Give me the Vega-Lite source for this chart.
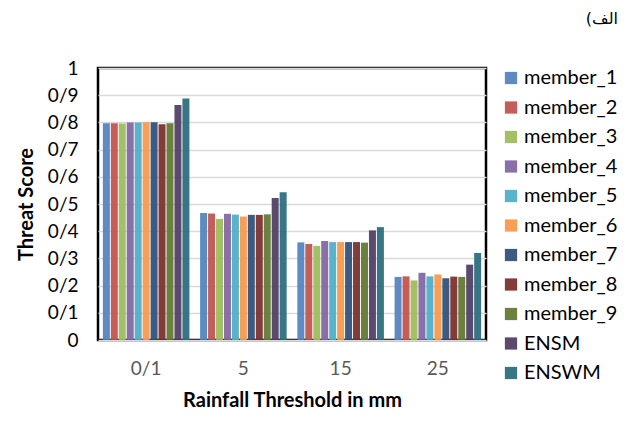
{
  "$schema": "https://vega.github.io/schema/vega-lite/v6.json",
  "width": 388,
  "height": 272,
  "autosize": {"type": "none"},
  "padding": {"left": 98, "top": 68, "right": 143, "bottom": 81},
  "background": "#ffffff",
  "title": {
    "text": "(الف",
    "anchor": "end",
    "frame": "bounds",
    "font": "DejaVu Sans",
    "fontSize": 16,
    "fontWeight": "normal",
    "color": "#000000",
    "offset": 32,
    "dx": 0
  },
  "data": {
    "values": [
      {"threshold": "0/1", "series": "member_1", "ts": 0.797},
      {"threshold": "0/1", "series": "member_2", "ts": 0.797},
      {"threshold": "0/1", "series": "member_3", "ts": 0.796},
      {"threshold": "0/1", "series": "member_4", "ts": 0.800},
      {"threshold": "0/1", "series": "member_5", "ts": 0.800},
      {"threshold": "0/1", "series": "member_6", "ts": 0.801},
      {"threshold": "0/1", "series": "member_7", "ts": 0.801},
      {"threshold": "0/1", "series": "member_8", "ts": 0.793},
      {"threshold": "0/1", "series": "member_9", "ts": 0.797},
      {"threshold": "0/1", "series": "ENSM", "ts": 0.864},
      {"threshold": "0/1", "series": "ENSWM", "ts": 0.888},
      {"threshold": "5", "series": "member_1", "ts": 0.467},
      {"threshold": "5", "series": "member_2", "ts": 0.465},
      {"threshold": "5", "series": "member_3", "ts": 0.445},
      {"threshold": "5", "series": "member_4", "ts": 0.464},
      {"threshold": "5", "series": "member_5", "ts": 0.461},
      {"threshold": "5", "series": "member_6", "ts": 0.454},
      {"threshold": "5", "series": "member_7", "ts": 0.460},
      {"threshold": "5", "series": "member_8", "ts": 0.460},
      {"threshold": "5", "series": "member_9", "ts": 0.462},
      {"threshold": "5", "series": "ENSM", "ts": 0.522},
      {"threshold": "5", "series": "ENSWM", "ts": 0.543},
      {"threshold": "15", "series": "member_1", "ts": 0.359},
      {"threshold": "15", "series": "member_2", "ts": 0.353},
      {"threshold": "15", "series": "member_3", "ts": 0.346},
      {"threshold": "15", "series": "member_4", "ts": 0.364},
      {"threshold": "15", "series": "member_5", "ts": 0.360},
      {"threshold": "15", "series": "member_6", "ts": 0.360},
      {"threshold": "15", "series": "member_7", "ts": 0.360},
      {"threshold": "15", "series": "member_8", "ts": 0.360},
      {"threshold": "15", "series": "member_9", "ts": 0.358},
      {"threshold": "15", "series": "ENSM", "ts": 0.403},
      {"threshold": "15", "series": "ENSWM", "ts": 0.415},
      {"threshold": "25", "series": "member_1", "ts": 0.232},
      {"threshold": "25", "series": "member_2", "ts": 0.234},
      {"threshold": "25", "series": "member_3", "ts": 0.219},
      {"threshold": "25", "series": "member_4", "ts": 0.247},
      {"threshold": "25", "series": "member_5", "ts": 0.234},
      {"threshold": "25", "series": "member_6", "ts": 0.241},
      {"threshold": "25", "series": "member_7", "ts": 0.227},
      {"threshold": "25", "series": "member_8", "ts": 0.233},
      {"threshold": "25", "series": "member_9", "ts": 0.232},
      {"threshold": "25", "series": "ENSM", "ts": 0.277},
      {"threshold": "25", "series": "ENSWM", "ts": 0.320}
    ]
  },
  "mark": {"type": "bar", "opacity": 0.92},
  "encoding": {
    "x": {
      "field": "threshold",
      "type": "nominal",
      "sort": ["0/1", "5", "15", "25"],
      "scale": {"paddingInner": 0.11, "paddingOuter": 0.05},
      "axis": {
        "title": "Rainfall Threshold in mm",
        "labelAngle": 0,
        "labelColor": "#595959",
        "labelFontSize": 19,
        "labelPadding": 19,
        "ticks": false,
        "domain": false,
        "titleFontSize": 20,
        "titleFontWeight": "bold",
        "titlePadding": 12
      }
    },
    "xOffset": {
      "field": "series",
      "type": "nominal",
      "sort": ["member_1", "member_2", "member_3", "member_4", "member_5", "member_6", "member_7", "member_8", "member_9", "ENSM", "ENSWM"],
      "scale": {"paddingInner": 0.12}
    },
    "y": {
      "field": "ts",
      "type": "quantitative",
      "scale": {"domain": [0, 1], "nice": false},
      "axis": {
        "title": "Threat Score",
        "values": [0, 0.1, 0.2, 0.3, 0.4, 0.5, 0.6, 0.7, 0.8, 0.9, 1],
        "labelExpr": "replace(format(datum.value, '~g'), '.', '/')",
        "labelColor": "#000000",
        "labelFontSize": 19,
        "labelPadding": 20,
        "ticks": false,
        "domain": false,
        "grid": true,
        "gridColor": "#d9d9d9",
        "gridWidth": 1.5,
        "titleFontSize": 20,
        "titleFontWeight": "bold",
        "titlePadding": 11
      }
    },
    "color": {
      "field": "series",
      "type": "nominal",
      "sort": ["member_1", "member_2", "member_3", "member_4", "member_5", "member_6", "member_7", "member_8", "member_9", "ENSM", "ENSWM"],
      "scale": {
        "domain": ["member_1", "member_2", "member_3", "member_4", "member_5", "member_6", "member_7", "member_8", "member_9", "ENSM", "ENSWM"],
        "range": ["#4f81bd", "#c0504d", "#9bbb59", "#8064a2", "#4bacc6", "#f79646", "#2c4d75", "#772c2a", "#5f7530", "#4d3b62", "#276a7c"]
      },
      "legend": {
        "title": null,
        "orient": "right",
        "offset": 15,
        "symbolType": "square",
        "symbolSize": 150,
        "symbolStrokeWidth": 0,
        "symbolOpacity": 0.92,
        "labelFontSize": 20,
        "labelColor": "#000000",
        "labelOffset": 3,
        "rowPadding": 9.5,
        "padding": 0
      }
    }
  },
  "config": {
    "font": "Lato",
    "view": {"stroke": "#000000", "strokeWidth": 2.5},
    "axis": {"titleColor": "#000000"}
  }
}
